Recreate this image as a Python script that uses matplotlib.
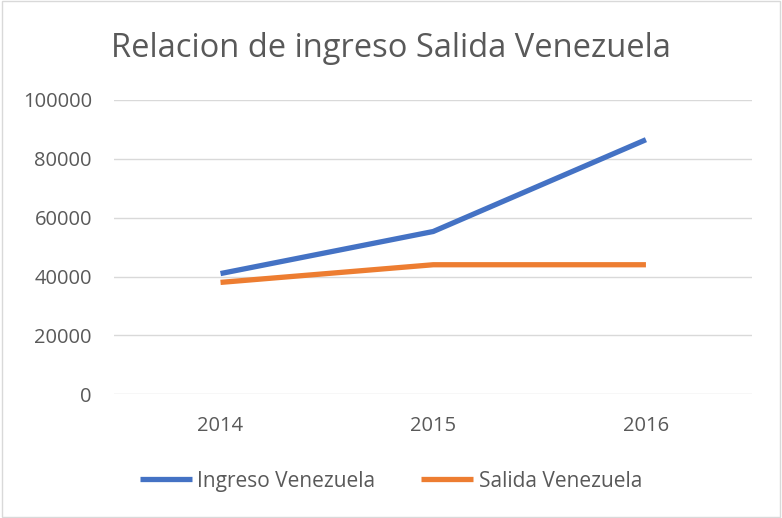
import matplotlib.pyplot as plt
from matplotlib.patches import Rectangle

years = ["2014", "2015", "2016"]
ingreso = [41000, 55300, 86500]
salida = [38000, 44000, 44000]
y_ticks = [0, 20000, 40000, 60000, 80000, 100000]

plt.rcParams['font.family'] = ['Open Sans', 'DejaVu Sans']
text_color = "#595959"

fig = plt.figure(figsize=(7.82, 5.18), dpi=100)
ax = fig.add_axes([0.146, 0.239, 0.816, 0.568])

x = list(range(len(years)))
ax.plot(x, ingreso, color="#4472C4", lw=3.8, label="Ingreso Venezuela", solid_capstyle="butt")
ax.plot(x, salida, color="#ED7D31", lw=3.8, label="Salida Venezuela", solid_capstyle="butt")

ax.set_xlim(-0.5, 2.5)
ax.set_ylim(0, 100000)
ax.set_xticks(x)
ax.set_xticklabels(years)
ax.set_yticks(y_ticks)
ax.set_yticklabels([str(v) for v in y_ticks])
ax.tick_params(length=0, labelsize=14.5, colors=text_color)
ax.tick_params(axis="x", pad=16)
ax.tick_params(axis="y", pad=16)
ax.grid(axis="y", color="#D9D9D9", lw=1)
ax.set_axisbelow(True)
for s in ax.spines.values():
    s.set_visible(False)

fig.text(0.5, 0.907, "Relacion de ingreso Salida Venezuela", ha="center", va="center",
         fontsize=23.5, color=text_color)

fig.legend(loc="center", bbox_to_anchor=(0.5, 0.071), ncol=2, frameon=False,
           fontsize=15, labelcolor=text_color, handlelength=2.5, columnspacing=2.2,
           handletextpad=0.25)

fig.patches.append(Rectangle((0.002, 0.002), 0.996, 0.996, transform=fig.transFigure,
                             fill=False, edgecolor="#D9D9D9", lw=1))

fig.savefig("out.png", dpi=100)
